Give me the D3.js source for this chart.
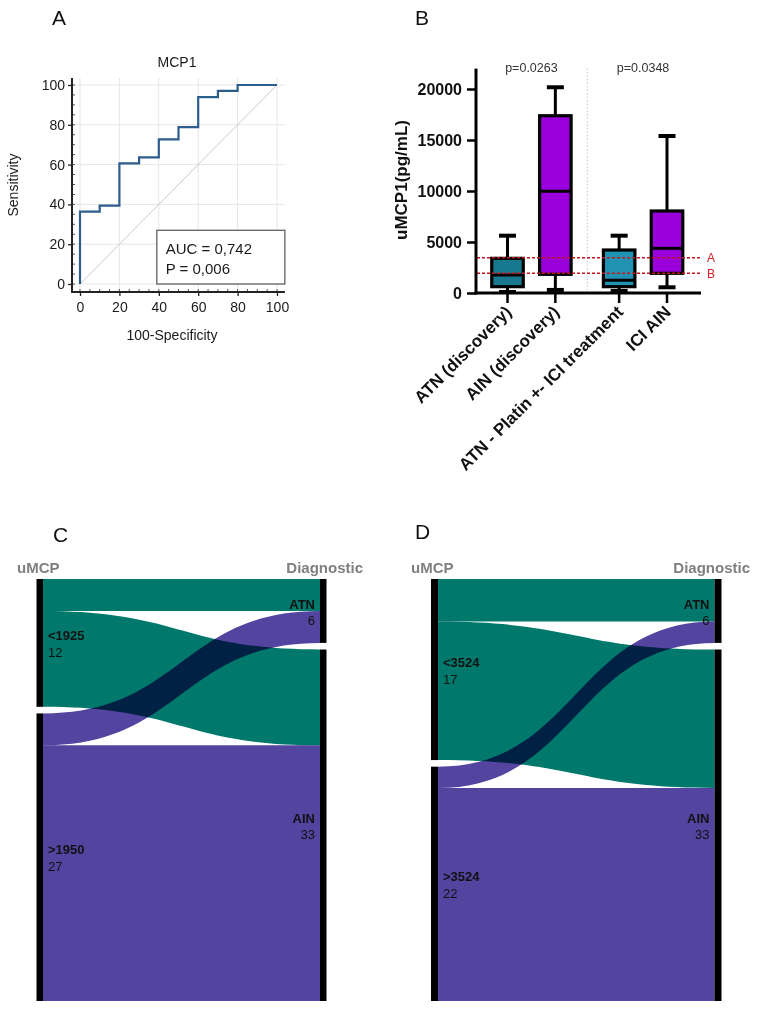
<!DOCTYPE html>
<html><head><meta charset="utf-8">
<script src="https://cdn.jsdelivr.net/npm/d3@7"></script>
<style>body{margin:0;background:#fff}svg{display:block;font-family:"Liberation Sans",Arial,sans-serif}</style>
</head><body>
<svg id="fig" width="765" height="1015"></svg>
<script>
// ---------- Panel A data (ROC) ----------
const rocFpr  = [0, 0, 10, 10, 20, 20, 30, 30, 40, 40, 50, 50, 60, 60, 70, 70, 80, 80, 100];
const rocSens = [0, 36.4, 36.4, 39.4, 39.4, 60.6, 60.6, 63.6, 63.6, 72.7, 72.7, 78.8, 78.8, 93.9, 93.9, 97.0, 97.0, 100, 100];
const rocTicks = [0, 20, 40, 60, 80, 100];
const aucText = ["AUC = 0,742", "P = 0,006"];

// ---------- Panel B data (box plots) ----------
const boxGroups = ["ATN (discovery)", "AIN (discovery)", "ATN - Platin +- ICI treatment", "ICI AIN"];
const boxSlot   = [0, 1, 2.333, 3.333];
const boxLow    = [100, 300, 200, 560];
const boxQ1     = [620, 1830, 620, 1930];
const boxMedian = [1765, 9970, 1250, 4380];
const boxQ3     = [3400, 17380, 4215, 8040];
const boxHigh   = [5620, 20170, 5620, 15390];
const boxColors = ["#18788f", "#9a00dc", "#1f93b1", "#9a00dc"];
const boxTicks  = [0, 5000, 10000, 15000, 20000];
const cutoffNames = ["A", "B"];
const cutoffValues = [3460, 1930];
const pLabels = ["p=0.0263", "p=0.0348"];

// ---------- Panels C / D data (Sankey) ----------
const sankeyTargets = ["ATN", "AIN"];
const sankeyTargetValues = [6, 33];
const sankeyC_sources = ["<1925", ">1950"];
const sankeyC_values = [12, 27];
const sankeyC_links = [[3, 9], [3, 24]];   // rows: source, cols: target
const sankeyD_sources = ["<3524", ">3524"];
const sankeyD_values = [17, 22];
const sankeyD_links = [[4, 13], [2, 20]];
const sankeyColors = ["#00786c", "#5344a0"];

const svg = d3.select("#fig");
const FONT = '"Liberation Sans",Arial,sans-serif';

// panel letters
[["A", 52, 25], ["B", 415, 25], ["C", 53, 542], ["D", 415, 539]].forEach(([t, x, y]) =>
  svg.append("text").attr("x", x).attr("y", y).attr("font-size", 21).attr("fill", "#111").text(t));

// ================= Panel A =================
(function () {
  const g = svg.append("g");
  const x = d3.scaleLinear().domain([0, 100]).range([80, 277]);
  const y = d3.scaleLinear().domain([0, 100]).range([284, 85]);
  const axX = 72, axY = 292;
  // grid
  g.selectAll(".gx").data(rocTicks).join("line")
    .attr("x1", d => x(d)).attr("x2", d => x(d)).attr("y1", axY).attr("y2", y(103.5))
    .attr("stroke", "#e6e6e6").attr("stroke-width", 1);
  g.selectAll(".gy").data(rocTicks).join("line")
    .attr("x1", axX).attr("x2", x(104)).attr("y1", d => y(d)).attr("y2", d => y(d))
    .attr("stroke", "#e6e6e6").attr("stroke-width", 1);
  // diagonal
  g.append("line").attr("x1", x(0)).attr("y1", y(0)).attr("x2", x(100)).attr("y2", y(100))
    .attr("stroke", "#c8c8c8").attr("stroke-width", 1);
  // ROC curve
  const line = d3.line().x((d, i) => x(rocFpr[i])).y(d => y(d));
  g.append("path").attr("d", line(rocSens)).attr("fill", "none")
    .attr("stroke", "#2c5d8c").attr("stroke-width", 2.2).attr("stroke-linejoin", "miter");
  // axes
  const minor = d3.range(0, 101, 5);
  const ya = d3.axisLeft(y).tickValues(rocTicks).tickSize(4).tickPadding(3);
  const yg = g.append("g").attr("transform", `translate(${axX},0)`).call(ya);
  const xa = d3.axisBottom(x).tickValues(rocTicks).tickSize(4).tickPadding(6);
  const xg = g.append("g").attr("transform", `translate(0,${axY})`).call(xa);
  [yg, xg].forEach(a => {
    a.select(".domain").remove();
    a.selectAll("text").attr("font-size", 14).attr("font-family", FONT).attr("fill", "#1a1a1a");
    a.selectAll("line").attr("stroke", "#222").attr("stroke-width", 1.3);
  });
  g.selectAll(".my").data(minor).join("line")
    .attr("x1", axX).attr("x2", axX + 3).attr("y1", d => y(d)).attr("y2", d => y(d))
    .attr("stroke", "#555").attr("stroke-width", 1);
  g.selectAll(".mx").data(minor).join("line")
    .attr("y1", axY).attr("y2", axY - 3).attr("x1", d => x(d)).attr("x2", d => x(d))
    .attr("stroke", "#555").attr("stroke-width", 1);
  g.append("line").attr("x1", axX).attr("x2", axX).attr("y1", y(103.5)).attr("y2", axY + 1)
    .attr("stroke", "#222").attr("stroke-width", 2);
  g.append("line").attr("x1", axX - 1).attr("x2", x(104)).attr("y1", axY).attr("y2", axY)
    .attr("stroke", "#222").attr("stroke-width", 2);
  // titles
  g.append("text").attr("x", 177).attr("y", 67).attr("text-anchor", "middle")
    .attr("font-size", 14).attr("fill", "#1a1a1a").text("MCP1");
  g.append("text").attr("transform", "translate(18,185) rotate(-90)").attr("text-anchor", "middle")
    .attr("font-size", 14).attr("fill", "#1a1a1a").text("Sensitivity");
  g.append("text").attr("x", 172).attr("y", 340).attr("text-anchor", "middle")
    .attr("font-size", 14).attr("fill", "#1a1a1a").text("100-Specificity");
  // AUC box
  g.append("rect").attr("x", x(39)).attr("y", y(27)).attr("width", x(104) - x(39)).attr("height", y(0) - y(27))
    .attr("fill", "#fff").attr("stroke", "#555").attr("stroke-width", 1.2);
  aucText.forEach((t, i) => g.append("text").attr("x", x(43.5)).attr("y", 254 + i * 20)
    .attr("font-size", 15).attr("fill", "#1a1a1a").text(t));
})();

// ================= Panel B =================
(function () {
  const g = svg.append("g");
  const y = d3.scaleLinear().domain([0, 20000]).range([293, 89]);
  const x = d3.scaleLinear().domain([0, 3.333]).range([507.5, 667]);
  const axX = 476, axY = 293, bw = 31.5, cap = 17;
  // divider
  g.append("line").attr("x1", x(1.667)).attr("x2", x(1.667)).attr("y1", y(22000)).attr("y2", y(300))
    .attr("stroke", "#cfcfcf").attr("stroke-width", 1.2).attr("stroke-dasharray", "1.5,2");
  // p values
  [[0.5, pLabels[0]], [2.833, pLabels[1]]].forEach(([s, t]) =>
    g.append("text").attr("x", x(s)).attr("y", 72).attr("text-anchor", "middle")
      .attr("font-size", 12.5).attr("fill", "#333").text(t));
  // boxes
  boxGroups.forEach((name, i) => {
    const cx = x(boxSlot[i]);
    g.append("line").attr("x1", cx).attr("x2", cx).attr("y1", y(boxHigh[i])).attr("y2", y(boxLow[i]))
      .attr("stroke", "#000").attr("stroke-width", 3);
    [boxHigh[i], boxLow[i]].forEach(v => g.append("line").attr("x1", cx - cap / 2).attr("x2", cx + cap / 2)
      .attr("y1", y(v)).attr("y2", y(v)).attr("stroke", "#000").attr("stroke-width", 4));
    g.append("rect").attr("x", cx - bw / 2).attr("y", y(boxQ3[i])).attr("width", bw)
      .attr("height", y(boxQ1[i]) - y(boxQ3[i])).attr("fill", boxColors[i])
      .attr("stroke", "#000").attr("stroke-width", 3.2);
    g.append("line").attr("x1", cx - bw / 2).attr("x2", cx + bw / 2).attr("y1", y(boxMedian[i])).attr("y2", y(boxMedian[i]))
      .attr("stroke", "#000").attr("stroke-width", 3);
  });
  // cut-off lines
  cutoffValues.forEach((v, i) => {
    g.append("line").attr("x1", axX + 1).attr("x2", 702).attr("y1", y(v)).attr("y2", y(v))
      .attr("stroke", "#c4161c").attr("stroke-width", 1.4).attr("stroke-dasharray", "3,2");
    g.append("text").attr("x", 707).attr("y", y(v) + 4.5).attr("font-size", 12).attr("fill", "#d0202a").text(cutoffNames[i]);
  });
  // axes
  const ya = d3.axisLeft(y).tickValues(boxTicks).tickSize(9).tickPadding(5).tickFormat(d3.format("d"));
  const yg = g.append("g").attr("transform", `translate(${axX},0)`).call(ya);
  yg.select(".domain").remove();
  yg.selectAll("line").attr("stroke", "#000").attr("stroke-width", 2.5);
  yg.selectAll("text").attr("font-size", 16).attr("font-weight", "bold").attr("font-family", FONT).attr("fill", "#111");
  g.append("line").attr("x1", axX).attr("x2", axX).attr("y1", y(22000)).attr("y2", axY + 1.5)
    .attr("stroke", "#000").attr("stroke-width", 3);
  g.append("line").attr("x1", axX - 1.5).attr("x2", 701).attr("y1", axY).attr("y2", axY)
    .attr("stroke", "#000").attr("stroke-width", 3);
  boxGroups.forEach((name, i) => {
    const cx = x(boxSlot[i]);
    g.append("line").attr("x1", cx).attr("x2", cx).attr("y1", axY).attr("y2", axY + 10)
      .attr("stroke", "#000").attr("stroke-width", 2.5);
    g.append("text").attr("transform", `translate(${cx + 5},${axY + 20}) rotate(-45)`)
      .attr("text-anchor", "end").attr("font-size", 17).attr("font-weight", "bold").attr("fill", "#111").text(name);
  });
  g.append("text").attr("transform", "translate(407,180) rotate(-90)").attr("text-anchor", "middle")
    .attr("font-size", 17).attr("font-weight", "bold").attr("fill", "#111").text("uMCP1(pg/mL)");
})();

// ================= Sankeys =================
function sankey(cfg) {
  const g = svg.append("g");
  const top = 579, bottom = 1001, gap = 6.6;
  const total = d3.sum(cfg.sources.map((s, i) => cfg.values[i]));
  const k = (bottom - top - gap) / total;
  const u = d3.scaleLinear().domain([0, total]).range([0, total * k]);
  // node positions
  const srcY = []; let acc = top;
  cfg.values.forEach(v => { srcY.push([acc, acc + u(v)]); acc += u(v) + gap; });
  const tgtY = []; acc = top;
  sankeyTargetValues.forEach(v => { tgtY.push([acc, acc + u(v)]); acc += u(v) + gap; });
  const x0 = cfg.lx + cfg.bw, x1 = cfg.rx;
  // link offsets
  const srcOff = srcY.map(d => d[0]), tgtOff = tgtY.map(d => d[0]);
  const links = [];
  cfg.links.forEach((row, s) => row.forEach((v, t) => links.push({ s, t, v })));
  links.sort((a, b) => a.s - b.s || a.t - b.t);
  const bySrc = links.slice().sort((a, b) => a.s - b.s || a.t - b.t);
  bySrc.forEach(l => { l.sy0 = srcOff[l.s]; l.sy1 = l.sy0 + u(l.v); srcOff[l.s] = l.sy1; });
  const byTgt = links.slice().sort((a, b) => a.t - b.t || a.s - b.s);
  byTgt.forEach(l => { l.ty0 = tgtOff[l.t]; l.ty1 = l.ty0 + u(l.v); tgtOff[l.t] = l.ty1; });
  const xm = (x0 + x1) / 2;
  const area = l => `M${x0},${l.sy0}C${xm},${l.sy0} ${xm},${l.ty0} ${x1},${l.ty0}` +
    `L${x1},${l.ty1}C${xm},${l.ty1} ${xm},${l.sy1} ${x0},${l.sy1}Z`;
  g.selectAll(".link").data(links).join("path").attr("d", area)
    .attr("fill", l => sankeyColors[l.s]).style("mix-blend-mode", "multiply");
  // node bars
  g.selectAll(".sn").data(srcY).join("rect").attr("x", cfg.lx).attr("y", d => d[0]).attr("width", cfg.bw)
    .attr("height", d => d[1] - d[0]).attr("fill", "#000");
  g.selectAll(".tn").data(tgtY).join("rect").attr("x", cfg.rx).attr("y", d => d[0]).attr("width", cfg.bw)
    .attr("height", d => d[1] - d[0]).attr("fill", "#000");
  // labels
  srcY.forEach((d, i) => {
    const c = (d[0] + d[1]) / 2;
    g.append("text").attr("x", x0 + 5).attr("y", c - 3).attr("font-size", 13).attr("font-weight", "bold")
      .attr("fill", "#111").text(cfg.sources[i]);
    g.append("text").attr("x", x0 + 5).attr("y", c + 14).attr("font-size", 13).attr("fill", "#111").text(cfg.values[i]);
  });
  tgtY.forEach((d, i) => {
    const c = (d[0] + d[1]) / 2;
    g.append("text").attr("x", x1 - 5).attr("y", c - 2).attr("text-anchor", "end").attr("font-size", 13)
      .attr("font-weight", "bold").attr("fill", "#111").text(sankeyTargets[i]);
    g.append("text").attr("x", x1 - 5).attr("y", c + 14).attr("text-anchor", "end").attr("font-size", 13)
      .attr("fill", "#111").text(sankeyTargetValues[i]);
  });
  g.append("text").attr("x", cfg.hx0).attr("y", 573).attr("font-size", 15).attr("font-weight", "bold")
    .attr("fill", "#7f7f7f").text("uMCP");
  g.append("text").attr("x", cfg.hx1).attr("y", 573).attr("text-anchor", "end").attr("font-size", 15)
    .attr("font-weight", "bold").attr("fill", "#7f7f7f").text("Diagnostic");
}
sankey({ sources: sankeyC_sources, values: sankeyC_values, links: sankeyC_links, lx: 36.5, rx: 320, bw: 6.5, hx0: 17, hx1: 363 });
sankey({ sources: sankeyD_sources, values: sankeyD_values, links: sankeyD_links, lx: 431, rx: 714.5, bw: 7, hx0: 411, hx1: 750 });
</script>
</body></html>
